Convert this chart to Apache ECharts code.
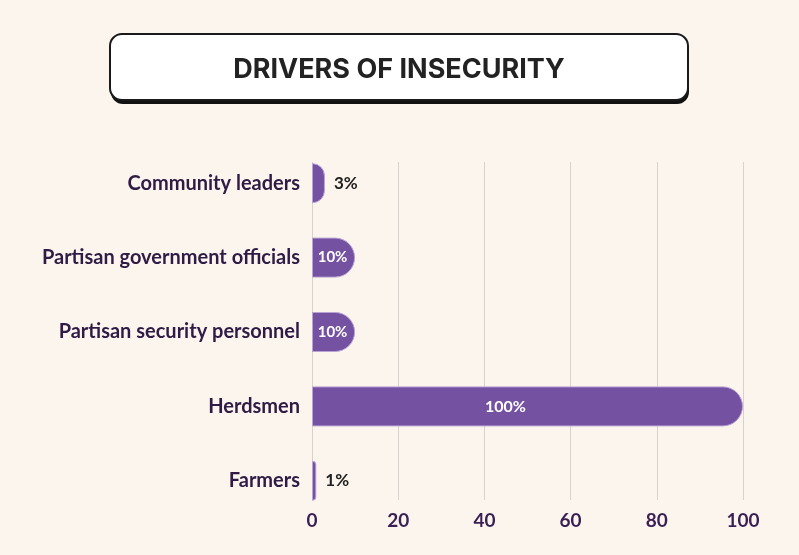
<!DOCTYPE html>
<html>
<head>
<meta charset="utf-8">
<script src="https://cdn.jsdelivr.net/npm/echarts@6/dist/echarts.min.js"></script>
<style>
  html, body { margin: 0; padding: 0; background: #fcf5ee; }
  #chart { width: 799px; height: 555px; }
</style>
</head>
<body>
<div id="chart"></div>
<script>
// Drivers of insecurity, share of responses (%)
const categories = [
  'Farmers',
  'Herdsmen',
  'Partisan security personnel',
  'Partisan government officials',
  'Community leaders'
];
const values = [1, 100, 10, 10, 3];
const xTicks = [0, 20, 40, 60, 80, 100];

const BAR = '#7451a1';
const INK = '#2f1b45';

const chart = echarts.init(document.getElementById('chart'), null, { renderer: 'canvas' });

const barData = values.map(function (v) {
  let label;
  if (v >= 50) {
    label = { position: 'inside', offset: [-22, 0], color: '#ffffff', fontSize: 16, fontWeight: 'bold' };
  } else if (v >= 10) {
    label = { position: 'inside', offset: [-1, 0], color: '#ffffff', fontSize: 15, fontWeight: 'bold' };
  } else {
    label = { position: 'right', distance: 9, color: '#222222', fontSize: 17, fontWeight: 'bold' };
  }
  return { value: v, label: label };
});

chart.setOption({
  backgroundColor: '#fcf5ee',
  animation: false,
  graphic: [
    // drop shadow of the title card
    { type: 'rect', shape: { x: 111, y: 39, width: 578, height: 65, r: 12 },
      style: { fill: '#111111' }, z: 10 },
    // title card
    { type: 'rect', shape: { x: 110, y: 34, width: 578, height: 66, r: 12 },
      style: { fill: '#ffffff', stroke: '#1a1a1a', lineWidth: 2 }, z: 11 },
    { type: 'text', x: 399, y: 70, z: 12,
      style: { text: 'DRIVERS OF INSECURITY', fill: '#222222',
        font: 'bold 27px Inter, "Open Sans", sans-serif',
        textAlign: 'center', textVerticalAlign: 'middle' } }
  ],
  grid: [
    // bars
    { left: 312, right: 56, top: 146, bottom: 37, containLabel: false },
    // gridlines and tick labels
    { left: 312, right: 56, top: 162, bottom: 55, containLabel: false }
  ],
  xAxis: [
    { gridIndex: 0, type: 'value', min: 0, max: 100, interval: 20,
      axisLine: { show: false }, axisTick: { show: false },
      axisLabel: { show: false }, splitLine: { show: false } },
    { gridIndex: 1, type: 'value', min: xTicks[0], max: xTicks[xTicks.length - 1], interval: 20,
      axisLine: { show: false }, axisTick: { show: false },
      axisLabel: { show: true, margin: 11, color: '#3a1f55', fontSize: 19, fontWeight: 'bold',
        fontFamily: 'Lato, sans-serif' },
      splitLine: { show: true, lineStyle: { color: '#d9d2cc', width: 1 } } }
  ],
  yAxis: [
    { gridIndex: 0, type: 'category', data: categories,
      axisLine: { show: false }, axisTick: { show: false },
      axisLabel: { margin: 12, color: INK, fontSize: 20, fontWeight: 'bold',
        fontFamily: 'Lato, sans-serif' } },
    { gridIndex: 1, type: 'category', data: [], show: false }
  ],
  series: [{
    type: 'bar',
    xAxisIndex: 0,
    yAxisIndex: 0,
    data: barData,
    barWidth: 40,
    z: 5,
    itemStyle: { color: BAR, borderRadius: [0, 20, 20, 0],
      borderColor: '#b8a3d6', borderWidth: 1 },
    label: { show: true, formatter: '{c}%', fontFamily: 'Lato, sans-serif' }
  }]
});
</script>
</body>
</html>
